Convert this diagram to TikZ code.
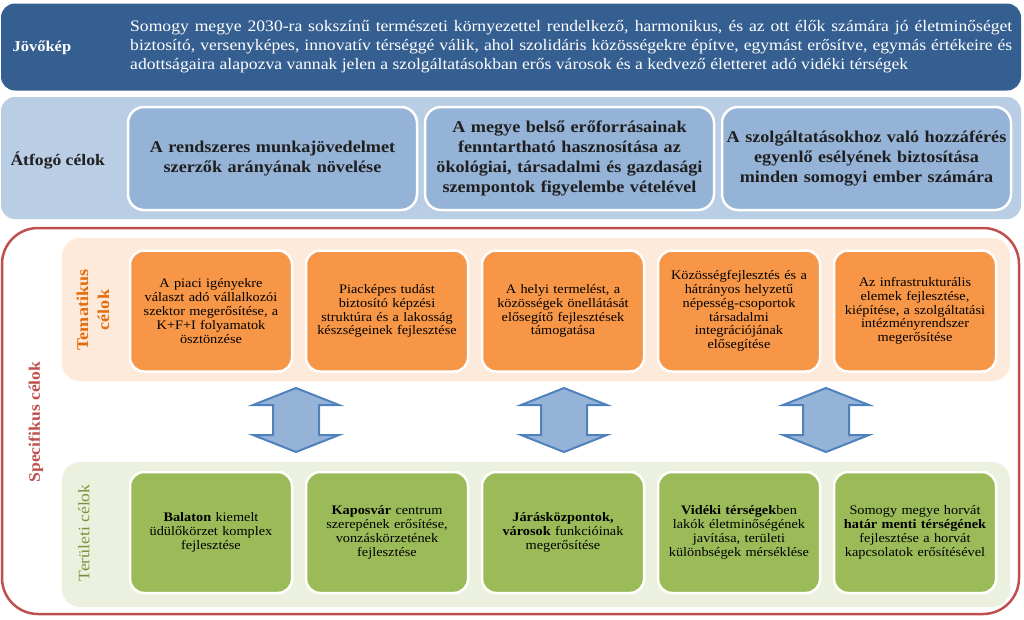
\documentclass[tikz,border=0pt]{standalone}
\usepackage{fontspec}
\setmainfont[FakeStretch=1.1]{Liberation Serif}
\usetikzlibrary{positioning}
\definecolor{visionblue}{HTML}{365F91}
\definecolor{bandblue}{HTML}{B9CDE5}
\definecolor{goalblue}{HTML}{95B3D7}
\definecolor{goaltext}{HTML}{1F1F1F}
\definecolor{framered}{HTML}{C0504D}
\definecolor{bandorange}{HTML}{FDEADA}
\definecolor{themeorange}{HTML}{F79646}
\definecolor{themetext}{HTML}{E46C0A}
\definecolor{bandgreen}{HTML}{EBF1DE}
\definecolor{areagreen}{HTML}{9BBB59}
\definecolor{areatext}{HTML}{77933C}
\definecolor{arrowfill}{HTML}{95B3D7}
\definecolor{arrowedge}{HTML}{4F81BD}

\begin{document}
\begin{tikzpicture}[
  x=1pt, y=-1pt,
  band/.style={rounded corners=14pt, inner sep=0pt, outer sep=0pt},
  goal/.style={draw=white, line width=2.5pt, rounded corners=16pt, fill=goalblue,
    align=center, text width=280pt, minimum width=289pt, minimum height=103pt,
    inner sep=2pt, outer sep=0pt, text=goaltext,
    font=\bfseries\fontsize{16.5}{20}\selectfont},
  cell/.style={draw=white, line width=2.5pt, rounded corners=14pt, align=center,
    text width=156pt, minimum width=162pt, minimum height=121pt,
    inner sep=2pt, outer sep=0pt, font=\fontsize{13}{13.8}\selectfont},
  theme/.style={cell, fill=themeorange},
  area/.style={cell, fill=areagreen},
  sidelabel/.style={rotate=90, align=center, inner sep=0pt},
  updown/.style={fill=arrowfill, draw=arrowedge, line width=2pt, line join=miter},
]
\useasboundingbox (0,0) rectangle (1024,619);
% ---- tier 1: vision ----
\node[band, fill=visionblue, minimum width=1020, minimum height=87] (vision) at (511,47) {};
\node[anchor=west, text=white, font=\bfseries\fontsize{15}{18}\selectfont] (visionlabel) at (9,48) {Jövőkép};
\node[anchor=west, text=white, text width=882pt, align=justify, inner sep=0pt,
  font=\fontsize{16}{19}\selectfont] (visiontext) at (130,47)
  {Somogy megye 2030-ra sokszínű természeti környezettel rendelkező, harmonikus, és az ott élők számára jó életminőséget\linebreak
   biztosító, versenyképes, innovatív térséggé válik, ahol szolidáris közösségekre építve, egymást erősítve, egymás értékeire és\linebreak
   adottságaira alapozva vannak jelen a szolgáltatásokban erős városok és a kedvező életteret adó vidéki térségek};
% ---- tier 2: overall goals ----
\node[band, fill=bandblue, minimum width=1020, minimum height=122] (overall) at (511,158) {};
\node[anchor=west, text=goaltext, font=\bfseries\fontsize{16}{19}\selectfont] (overalllabel) at (7,160) {Átfogó célok};
\node[goal] (goal1) at (272.5,158.5) {A rendszeres munkajövedelmet\\szerzők arányának növelése};
\node[goal, right=8pt of goal1] (goal2) {A megye belső erőforrásainak\\fenntartható hasznosítása az\\ökológiai, társadalmi és gazdasági\\szempontok figyelembe vételével};
\node[goal, right=8pt of goal2] (goal3) {A szolgáltatásokhoz való hozzáférés\\egyenlő esélyének biztosítása\\minden somogyi ember számára};
% ---- tier 3: specific goals ----
\node[draw=framered, line width=2.5pt, rounded corners=36pt, minimum width=1017, minimum height=386,
  inner sep=0pt, outer sep=0pt] (specific) at (510.5,421) {};
\node[sidelabel, text=framered, font=\bfseries\fontsize{16}{19}\selectfont] (specificlabel) at (36,422) {Specifikus célok};
% thematic row
\node[band, fill=bandorange, rounded corners=18pt, minimum width=948, minimum height=143] (thematic) at (536,309.5) {};
\node[sidelabel, text=themetext, font=\bfseries\fontsize{16.5}{21}\selectfont] (thematiclabel) at (93,310) {Tematikus\\célok};
\node[theme] (theme1) at (211,311) {A piaci igényekre\\választ adó vállalkozói\\szektor megerősítése, a\\K+F+I folyamatok\\ösztönzése};
\node[theme, right=14pt of theme1] (theme2) {Piacképes tudást\\biztosító képzési\\struktúra és a lakosság\\készségeinek fejlesztése};
\node[theme, right=14pt of theme2] (theme3) {A helyi termelést, a\\közösségek önellátását\\elősegítő fejlesztések\\támogatása};
\node[theme, right=14pt of theme3] (theme4) {Közösségfejlesztés és a\\hátrányos helyzetű\\népesség-csoportok\\társadalmi\\integrációjának\\elősegítése};
\node[theme, right=14pt of theme4] (theme5) {Az infrastrukturális\\elemek fejlesztése,\\kiépítése, a szolgáltatási\\intézményrendszer\\megerősítése};
% territorial row
\node[band, fill=bandgreen, rounded corners=18pt, minimum width=948, minimum height=145] (territorial) at (536,534.5) {};
\node[sidelabel, text=areatext, font=\fontsize{16}{19}\selectfont] (territoriallabel) at (84,533) {Területi célok};
\node[area] (area1) at (211,532.5) {\textbf{Balaton} kiemelt\\üdülőkörzet komplex\\fejlesztése};
\node[area, right=14pt of area1] (area2) {\textbf{Kaposvár} centrum\\szerepének erősítése,\\vonzáskörzetének\\fejlesztése};
\node[area, right=14pt of area2] (area3) {\textbf{Járásközpontok,}\\\textbf{városok} funkcióinak\\megerősítése};
\node[area, right=14pt of area3] (area4) {\textbf{Vidéki térségek}ben\\lakók életminőségének\\javítása, területi\\különbségek mérséklése};
\node[area, right=14pt of area4] (area5) {Somogy megye horvát\\\textbf{határ menti térségének}\\fejlesztése a horvát\\kapcsolatok erősítésével};
% ---- block arrows between the rows ----
\foreach \ax in {296,564,826}
  \draw[updown] (\ax,388) -- (\ax+43,405) -- (\ax+23,405) -- (\ax+23,435) -- (\ax+43,435)
    -- (\ax,452) -- (\ax-43,435) -- (\ax-23,435) -- (\ax-23,405) -- (\ax-43,405) -- cycle;
\end{tikzpicture}
\end{document}
